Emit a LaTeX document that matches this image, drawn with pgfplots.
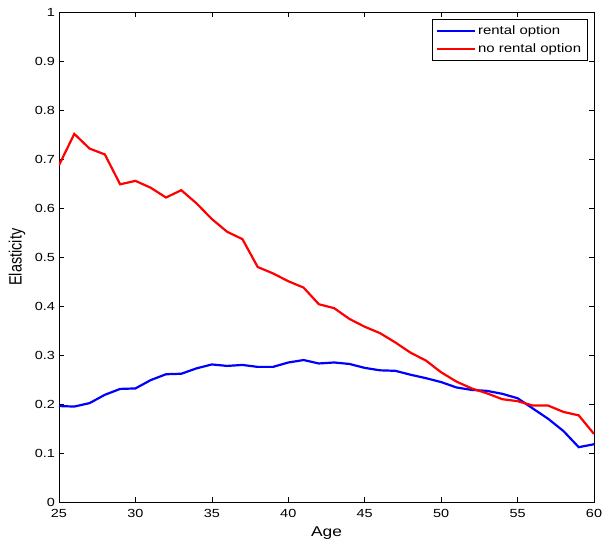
\documentclass[border=0pt]{standalone}
\usepackage{fontspec}
\setmainfont{Liberation Sans}
\usepackage{graphicx}
\usepackage{pgfplots}
\pgfplotsset{compat=1.18}
\newcommand{\sx}[1]{\scalebox{1.23}[1]{#1}}
\begin{document}
\fontsize{11.8}{14}\selectfont
\begin{tikzpicture}
\begin{axis}[
  scale only axis,
  width=535bp, height=489.5bp,
  at={(0,0)}, anchor=south west,
  xmin=25, xmax=60, ymin=0, ymax=1,
  xtick={25,30,...,60},
  ytick={0,0.1,...,1},
  /pgf/number format/assume math mode=true,
  xticklabel={\sx{\pgfmathprintnumber[assume math mode=true]{\tick}}},
  yticklabel={\sx{\pgfmathprintnumber[fixed,precision=1,assume math mode=true]{\tick}}},
  tick label style={font=\fontsize{11.8}{14}\selectfont},
  tick align=inside,
  major tick length=5bp,
  axis line style={line width=0.8bp},
  every tick/.style={black, line width=0.6bp},
  xlabel={\sx{Age}}, ylabel={\scalebox{1}[1.23]{Elasticity}},
  xlabel style={font=\fontsize{14.2}{16}\selectfont, at={(axis description cs:0.5,0)}, anchor=center, yshift=-31bp},
  ylabel style={font=\fontsize{14.5}{16}\selectfont, at={(axis description cs:0,0.5)}, anchor=center, yshift=42bp},
  x tick label style={yshift=-3bp},
  legend style={at={(rel axis cs:1,1)}, anchor=north east, xshift=-6.6bp, yshift=-6.8bp,
    draw=black, line width=0.6bp, font=\fontsize{12.2}{14}\selectfont, inner xsep=4bp, inner ysep=4bp,
    row sep=4bp},
  legend cell align=left,
  legend image code/.code={\draw[#1, line width=2bp] (0bp,0bp) -- (38bp,0bp);},
]
\addplot[blue, line width=2.2bp] coordinates {
(25,0.196) (26,0.195) (27,0.202) (28,0.219) (29,0.231) (30,0.232)
(31,0.249) (32,0.261) (33,0.262) (34,0.273) (35,0.281) (36,0.278)
(37,0.280) (38,0.276) (39,0.276) (40,0.285) (41,0.290) (42,0.283)
(43,0.285) (44,0.282) (45,0.274) (46,0.269) (47,0.268) (48,0.260)
(49,0.253) (50,0.245) (51,0.234) (52,0.229) (53,0.227) (54,0.221)
(55,0.212) (56,0.191) (57,0.170) (58,0.145) (59,0.112) (60,0.118)
};
\addlegendentry{\sx{rental option}}
\addplot[red, line width=2.2bp] coordinates {
(25,0.688) (26,0.752) (27,0.722) (28,0.710) (29,0.649) (30,0.656)
(31,0.642) (32,0.622) (33,0.637) (34,0.610) (35,0.578) (36,0.552)
(37,0.537) (38,0.480) (39,0.467) (40,0.451) (41,0.438) (42,0.404)
(43,0.396) (44,0.374) (45,0.358) (46,0.345) (47,0.326) (48,0.305)
(49,0.289) (50,0.265) (51,0.246) (52,0.232) (53,0.222) (54,0.210)
(55,0.206) (56,0.197) (57,0.197) (58,0.184) (59,0.177) (60,0.139)
};
\addlegendentry{\sx{no rental option}}
\end{axis}
\pgfresetboundingbox
\path[use as bounding box] (-59bp,-40bp) rectangle (545bp,502bp);
\end{tikzpicture}
\end{document}
